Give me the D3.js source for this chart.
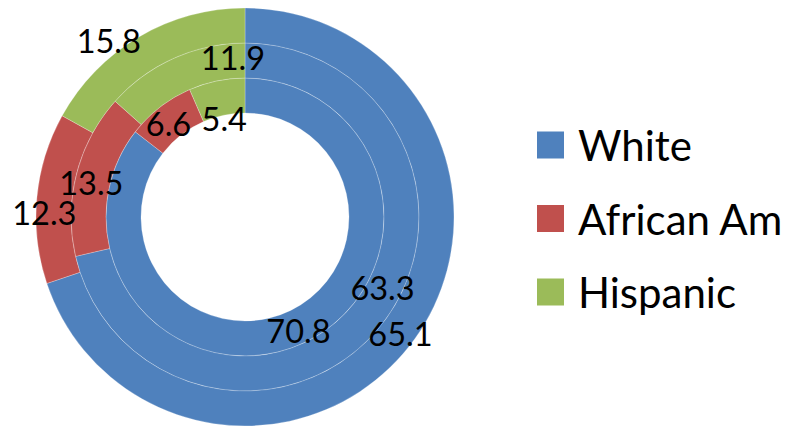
<!DOCTYPE html>
<html><head><meta charset="utf-8">
<script src="https://cdn.jsdelivr.net/npm/d3@7"></script>
<style>html,body{margin:0;padding:0;background:#fff;}svg{display:block;}</style>
</head><body>
<svg id="chart" width="792" height="429"></svg>
<script>
const categories = ["White", "African Am", "Hispanic"];
const innerRing = [70.8, 6.6, 5.4];
const middleRing = [63.3, 13.5, 11.9];
const outerRing = [65.1, 12.3, 15.8];
const rings = [innerRing, middleRing, outerRing];

const colors = ["#4F81BD", "#C0504D", "#9BBB59"];
// label nudges (px) relative to segment centroid, per ring/category
const labelNudge = [
  [[0, 4], [-2, 2], [4, 20]],
  [[15, -27], [-2, 4], [52, -17]],
  [[0, 5], [-10, 13], [-39, -12]]
];

const svg = d3.select("#chart");
const cx = 245, cy = 217;
const radius = d3.scaleLinear().domain([0, rings.length]).range([104, 209]);
const color = d3.scaleOrdinal().domain(categories).range(colors);
const pie = d3.pie().sort(null).value(d => d);

const g = svg.append("g").attr("transform", `translate(${cx},${cy})`);

rings.forEach((ring, i) => {
  const arc = d3.arc().innerRadius(radius(i)).outerRadius(radius(i + 1));
  const arcs = pie(ring);
  g.append("g").selectAll("path").data(arcs).join("path")
    .attr("d", arc)
    .attr("fill", (d, j) => color(categories[j]))
    .attr("stroke", "#ffffff")
    .attr("stroke-opacity", 0.35)
    .attr("stroke-width", 0.7);
});

rings.forEach((ring, i) => {
  const arc = d3.arc().innerRadius(radius(i)).outerRadius(radius(i + 1));
  const arcs = pie(ring);
  g.append("g").selectAll("text").data(arcs).join("text")
    .attr("x", (d, j) => arc.centroid(d)[0] + labelNudge[i][j][0])
    .attr("y", (d, j) => arc.centroid(d)[1] + labelNudge[i][j][1])
    .attr("text-anchor", "middle")
    .attr("dominant-baseline", "central")
    .attr("font-family", "Lato, 'Open Sans', sans-serif")
    .attr("font-size", 32.5)
    .attr("fill", "#000")
    .text(d => d.data.toFixed(1));
});

const legend = svg.append("g").attr("transform", "translate(537,0)");
const ly = d3.scalePoint().domain(categories).range([145, 292]);
const items = legend.selectAll("g").data(categories).join("g")
  .attr("transform", d => `translate(0,${ly(d)})`);
items.append("rect").attr("x", 0).attr("y", -13.5).attr("width", 27).attr("height", 27)
  .attr("fill", d => color(d));
items.append("text").attr("x", 41).attr("y", 0)
  .attr("dominant-baseline", "central")
  .attr("font-family", "Lato, 'Open Sans', sans-serif")
  .attr("font-size", 42)
  .attr("fill", "#000")
  .text(d => d);
</script>
</body></html>
